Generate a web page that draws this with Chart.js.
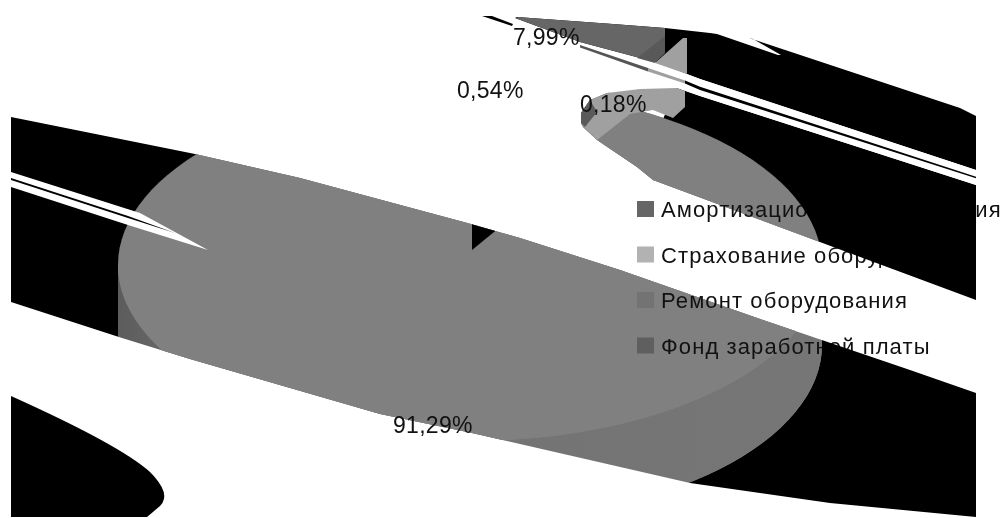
<!DOCTYPE html>
<html>
<head>
<meta charset="utf-8">
<title>Структура затрат</title>
<script src="https://cdn.jsdelivr.net/npm/chart.js@4/dist/chart.umd.min.js"></script>
<style>
  html, body { margin: 0; padding: 0; background: #fff; }
  canvas { display: block; }
</style>
</head>
<body>
<canvas id="cost-chart" width="1003" height="518"></canvas>
<script>
// Cost structure data
const categories = [
  'Амортизационные отчисления',
  'Страхование оборудования',
  'Ремонт оборудования',
  'Фонд заработной платы'
];
const values = [7.99, 0.54, 0.18, 91.29];

const sliceColors = ['#666666', '#808080', '#808080', '#808080'];
const sliceOffsets = [600, 0, 0, 0];
const legendColors = ['#666666', '#b2b2b2', '#737373', '#5f5f5f'];
const labelSpots = [[513, 45], [457, 98], [580, 112], [393, 433]];

// Tilted pie: top face ellipse and the height of its wall
const pieX = 470, pieY = 265, pieRadius = 352, squash = 0.5, wallDepth = 80;
const font = '"Liberation Sans", sans-serif';

// Visible strips of the page, everything else stays white
const lowerBand = [[11, 117], [195, 154], [300, 178], [471, 224], [520, 238], [620, 270], [763, 320], [910, 370], [976, 393],
  [976, 517], [830, 503], [690, 483], [472, 433], [380, 414], [190, 359], [122, 338], [11, 302]];
const upperBand = [[581, 113], [590, 100], [607, 93], [640, 89], [677, 88], [700, 96], [976, 185], [976, 300], [653, 180], [637, 167], [597, 140], [583, 127], [581, 123]];
const topSlice = [[517, 17], [613, 24], [665, 28], [665, 66], [655, 62], [580, 42], [515, 18]];
const topBlack = [[517, 17], [613, 24], [665, 28], [710, 33], [717, 34], [778, 55], [781, 55], [753, 39], [749, 38], [960, 108], [976, 116],
  [976, 170], [700, 79], [655, 62], [580, 42], [515, 18]];
const upperBlack = [[677, 88], [700, 96], [976, 185], [976, 300], [653, 180], [640, 170]];

function tracePoly(ctx, pts) {
  ctx.moveTo(pts[0][0], pts[0][1]);
  pts.slice(1).forEach(p => ctx.lineTo(p[0], p[1]));
  ctx.closePath();
}

function fillPoly(ctx, pts, color) {
  ctx.beginPath();
  tracePoly(ctx, pts);
  ctx.fillStyle = color;
  ctx.fill();
}

// Outline of the whole pie body, top face plus wall
function traceBody(ctx, rx, ry) {
  ctx.moveTo(pieX - rx, pieY);
  ctx.ellipse(pieX, pieY, rx, ry, 0, Math.PI, Math.PI * 2);
  ctx.lineTo(pieX + rx, pieY + wallDepth);
  ctx.ellipse(pieX, pieY + wallDepth, rx, ry, 0, 0, Math.PI);
  ctx.closePath();
}

function drawLegend(ctx) {
  ctx.font = '22px ' + font;
  ctx.letterSpacing = '1.1px';
  ctx.textAlign = 'left';
  ctx.textBaseline = 'alphabetic';
  categories.forEach((name, i) => {
    const y = 217 + i * 45.5;
    ctx.fillStyle = legendColors[i];
    ctx.fillRect(637, y - 16, 17, 16);
    ctx.fillStyle = '#111';
    ctx.fillText(name, 661, y);
  });
  ctx.letterSpacing = '0px';
}

// Black ground around the pie, it runs over the legend text
function drawGround(ctx, rx, ry) {
  [lowerBand, upperBlack].forEach(region => {
    ctx.save();
    ctx.beginPath();
    tracePoly(ctx, region);
    ctx.clip();
    ctx.beginPath();
    ctx.rect(0, 0, 1003, 518);
    traceBody(ctx, rx, ry);
    ctx.fillStyle = '#000';
    ctx.fill('evenodd');
    ctx.restore();
  });
  ctx.beginPath();
  ctx.moveTo(11, 396);
  ctx.quadraticCurveTo(120, 445, 150, 472);
  ctx.quadraticCurveTo(172, 494, 160, 506);
  ctx.lineTo(147, 517);
  ctx.lineTo(11, 517);
  ctx.closePath();
  ctx.fillStyle = '#000';
  ctx.fill();
}

// Thin white slits with a hairline inside
function drawSlits(ctx) {
  fillPoly(ctx, [[11, 172], [140, 213], [208, 250], [128, 225], [11, 187]], '#fff');
  fillPoly(ctx, [[11, 178], [128, 216], [175, 233], [128, 218], [11, 180]], '#000');
  fillPoly(ctx, [[700, 79], [976, 170], [976, 185], [700, 96], [677, 88], [655, 62]], '#fff');
  fillPoly(ctx, [[580, 45], [648, 68], [648, 71.5], [580, 47.5]], '#555555');
  fillPoly(ctx, [[648, 68], [685, 80.5], [685, 83.5], [648, 71.5]], '#a0a0a0');
  fillPoly(ctx, [[685, 80.5], [700, 86.7], [976, 176.7], [976, 178.3], [700, 90], [685, 83.5]], '#000');
  fillPoly(ctx, [[482, 16], [492, 16], [513, 24], [512, 26]], '#000');
}

// Cut faces of the pulled out slices
function drawCutFaces(ctx) {
  fillPoly(ctx, [[637, 58], [665, 36], [665, 53], [655, 63]], '#595959');
  fillPoly(ctx, [[655, 63], [683, 38], [687, 38], [687, 74]], '#a0a0a0');
  fillPoly(ctx, [[581, 124], [597, 140], [630, 114], [653, 110], [673, 118], [685, 107], [685, 91], [677, 88], [640, 89], [607, 93], [590, 100], [581, 113]], '#a0a0a0');
  fillPoly(ctx, [[581, 113], [590, 100], [597, 112], [585, 127], [581, 123]], '#5a5a5a');
}

// Black notch left at the pie centre by the pulled out slices
function drawNotch(ctx, arc) {
  const vx = 472, vy = 250, reach = 30;
  const a = arc.startAngle;
  ctx.save();
  ctx.beginPath();
  tracePoly(ctx, lowerBand);
  ctx.clip();
  ctx.beginPath();
  ctx.moveTo(vx, vy);
  ctx.lineTo(vx, vy - reach * 2);
  ctx.lineTo(vx + Math.cos(a) * reach * 2, vy + Math.sin(a) * reach * 2 * squash);
  ctx.closePath();
  ctx.fillStyle = '#000';
  ctx.fill();
  ctx.restore();
}

function drawLabels(ctx) {
  ctx.font = '23px ' + font;
  ctx.letterSpacing = '0.3px';
  ctx.fillStyle = '#111';
  ctx.textAlign = 'left';
  values.forEach((v, i) => {
    ctx.fillText(v.toFixed(2).replace('.', ',') + '%', labelSpots[i][0], labelSpots[i][1]);
  });
  ctx.letterSpacing = '0px';
}

const tiltedPie = {
  id: 'tiltedPie',
  beforeDatasetsDraw(chart) {
    const ctx = chart.ctx;
    const arc = chart.getDatasetMeta(0).data[3];
    const rx = arc.outerRadius, ry = rx * squash;

    fillPoly(ctx, topBlack, '#000');

    // wall first, then the top face under the slices
    const wall = ctx.createLinearGradient(pieX - rx, 0, pieX + rx, 0);
    wall.addColorStop(0, '#5c5c5c');
    wall.addColorStop(0.06, '#666666');
    wall.addColorStop(0.15, '#727272');
    wall.addColorStop(1, '#767676');

    ctx.save();
    ctx.beginPath();
    tracePoly(ctx, lowerBand);
    tracePoly(ctx, upperBand);
    ctx.clip();
    ctx.beginPath();
    traceBody(ctx, rx, ry);
    ctx.fillStyle = wall;
    ctx.fill();
    ctx.beginPath();
    ctx.ellipse(pieX, pieY, rx, ry, 0, 0, Math.PI * 2);
    ctx.fillStyle = '#808080';
    ctx.fill();
    ctx.restore();

    ctx.save();
    ctx.beginPath();
    tracePoly(ctx, lowerBand);
    tracePoly(ctx, upperBand);
    tracePoly(ctx, topSlice);
    ctx.clip();
    ctx.translate(pieX - arc.x, pieY - arc.y * squash);
    ctx.scale(1, squash);
  },
  afterDatasetsDraw(chart) {
    const ctx = chart.ctx;
    ctx.restore();
    const arc = chart.getDatasetMeta(0).data[3];
    const rx = arc.outerRadius, ry = rx * squash;
    drawLegend(ctx);
    drawGround(ctx, rx, ry);
    drawSlits(ctx);
    drawNotch(ctx, arc);
    drawCutFaces(ctx);
    drawLabels(ctx);
  }
};

new Chart(document.getElementById('cost-chart').getContext('2d'), {
  type: 'pie',
  data: {
    labels: categories,
    datasets: [{
      data: values,
      backgroundColor: sliceColors,
      offset: sliceOffsets,
      borderWidth: 0,
      radius: pieRadius,
      clip: false
    }]
  },
  options: {
    responsive: false,
    animation: false,
    cutout: '0%',
    layout: { padding: 0 },
    plugins: {
      legend: { display: false },
      tooltip: { enabled: false }
    }
  },
  plugins: [tiltedPie]
});
</script>
</body>
</html>
